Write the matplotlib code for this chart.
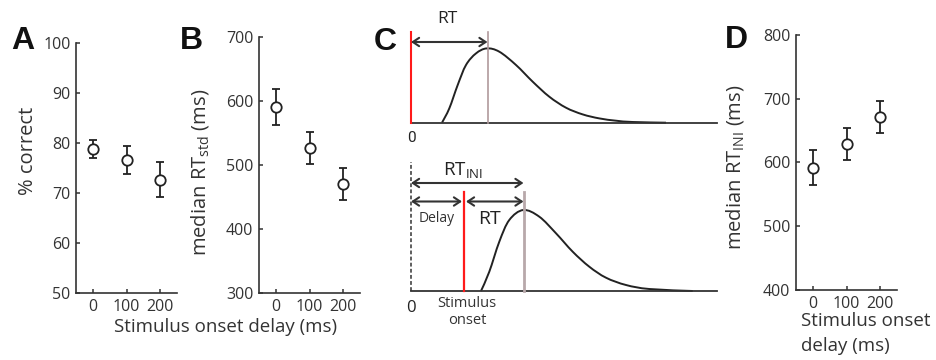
import numpy as np
import matplotlib
matplotlib.use('Agg')
from matplotlib import pyplot as plt
from matplotlib.path import Path
from matplotlib.patches import PathPatch

plt.rcParams['font.family'] = ['Open Sans', 'DejaVu Sans']
plt.rcParams['mathtext.fontset'] = 'custom'
plt.rcParams['mathtext.rm'] = 'Open Sans'
plt.rcParams['mathtext.it'] = 'Open Sans'

# data
delays = [0, 100, 200]
pc_mean = [78.8, 76.6, 72.7]
pc_err = [1.8, 2.8, 3.5]
rt_std_mean = [590, 527, 471]
rt_std_err = [28, 25, 25]
rt_ini_mean = [592, 629, 671]
rt_ini_err = [28, 25, 25]

# schematic RT distributions for panel C (time from 0, density height)
top_t = [31, 38.3, 46.7, 55, 65, 75.7, 88.3, 105, 121.7, 138.3, 155, 171.7, 188.3, 205, 221.7, 255]
top_h = [0, 14.3, 37.7, 57.7, 69.3, 74.3, 71, 57.7, 41, 26, 15, 8.3, 4.3, 2, 0.7, 0]
top_rt = 76.5
bot_t = [70, 78.3, 88.3, 98.3, 112.3, 128.3, 145, 161.7, 178.3, 195, 215, 238.3, 281.7]
bot_h = [0, 19.3, 49.3, 71, 81, 74.3, 57.7, 39.3, 24.3, 13.3, 6, 2, 0]
bot_delay = 53
bot_rt = 112.5

W, H = 936, 360
fig = plt.figure(figsize=(W / 100, H / 100), dpi=100)
txt = '#333333'


def px_axes(left, top, right, bottom):
    return fig.add_axes([left / W, 1 - bottom / H, (right - left) / W, (bottom - top) / H])


def smooth_path(xs, ys):
    # Catmull-Rom through the read points, drawn as cubic Bezier segments
    p = np.column_stack([xs, ys])
    pp = np.vstack([p[0], p, p[-1]])
    verts = [p[0]]
    codes = [Path.MOVETO]
    for i in range(1, len(pp) - 2):
        c1 = pp[i] + (pp[i + 1] - pp[i - 1]) / 6
        c2 = pp[i + 1] - (pp[i + 2] - pp[i]) / 6
        verts += [c1, c2, pp[i + 1]]
        codes += [Path.CURVE4] * 3
    return Path(verts, codes)


def scatter_panel(ax, mean, err, ylim, yticks, ylabel, lab_xy):
    ax.errorbar(delays, mean, yerr=err, fmt='o', color='#222222', mfc='white', mec='#222222',
                ms=7.5, mew=1.3, elinewidth=1.3, capsize=3, capthick=1.3)
    ax.set_xlim(-50, 250)
    ax.set_ylim(*ylim)
    ax.set_xticks(delays)
    ax.set_yticks(yticks)
    for s in ['top', 'right']:
        ax.spines[s].set_visible(False)
    for s in ['left', 'bottom']:
        ax.spines[s].set_color('#333333')
        ax.spines[s].set_linewidth(1.2)
    ax.tick_params(direction='in', length=3, width=1.1, color='#333333', labelsize=11.5,
                   labelcolor=txt, pad=4)
    ax.set_ylabel(ylabel, fontsize=14.5, color=txt)
    ax.yaxis.set_label_coords(*lab_xy)


axA = px_axes(76, 43, 177, 293)
scatter_panel(axA, pc_mean, pc_err, (50, 100), [50, 60, 70, 80, 90, 100], '% correct', (-0.38, 0.57))
axB = px_axes(259, 37, 360, 293)
scatter_panel(axB, rt_std_mean, rt_std_err, (300, 700), [300, 400, 500, 600, 700],
              r'median RT$_{\mathrm{std}}$ (ms)', (-0.48, 0.47))
axD = px_axes(796, 35, 897, 290)
scatter_panel(axD, rt_ini_mean, rt_ini_err, (400, 800), [400, 500, 600, 700, 800],
              r'median RT$_{\mathrm{INI}}$ (ms)', (-0.5, 0.48))

fig.text(226 / W, 1 - 327 / H, 'Stimulus onset delay (ms)', ha='center', va='center', fontsize=13.5, color=txt)
fig.text(801 / W, 1 - 312 / H, 'Stimulus onset\ndelay (ms)', ha='left', va='top', fontsize=13.5,
         color=txt, linespacing=1.5)

# panel C: schematic, axes in pixel units
arrow = dict(arrowstyle='<->,head_length=0.45,head_width=0.3', color='#333333', lw=1.5,
             shrinkA=0, shrinkB=0)

axC1 = px_axes(411, 27.7, 717, 122.7)
axC1.set_xlim(0, 306)
axC1.set_ylim(0, 95)
axC1.axis('off')
axC1.plot([0, 306], [0, 0], color='#333333', lw=1.3, clip_on=False)
axC1.add_patch(PathPatch(smooth_path(top_t, top_h), fill=False, ec='#222222', lw=1.4, clip_on=False))
axC1.plot([0, 0], [0, 90.7], color='#ff1a1a', lw=1.5, clip_on=False)
axC1.plot([top_rt, top_rt], [0, 90.7], color='#b09a9c', lw=1.2, clip_on=False)
axC1.annotate('', xy=(top_rt, 80.7), xytext=(0, 80.7), arrowprops=arrow, annotation_clip=False)
axC1.text(36, 104, 'RT', ha='center', va='center', fontsize=12.5, color='#222222')
axC1.text(0, -15, '0', ha='center', va='center', fontsize=11, color='#222222', family='Roboto')

axC2 = px_axes(411, 156, 717, 291)
axC2.set_xlim(0, 306)
axC2.set_ylim(0, 135)
axC2.axis('off')
axC2.plot([0, 306], [0, 0], color='#333333', lw=1.3, clip_on=False)
axC2.plot([0, 0], [0, 129], color='#333333', lw=1.1, ls=(0, (2.5, 1.5)), clip_on=False)
axC2.add_patch(PathPatch(smooth_path(bot_t, bot_h), fill=False, ec='#222222', lw=1.4, clip_on=False))
axC2.plot([bot_delay, bot_delay], [0, 99], color='#ff1a1a', lw=1.6, clip_on=False)
axC2.plot([bot_rt, bot_rt], [0, 99], color='#b8a8aa', lw=2.0, clip_on=False)
axC2.annotate('', xy=(bot_rt, 108), xytext=(0, 108), arrowprops=arrow, annotation_clip=False)
axC2.annotate('', xy=(bot_delay - 2, 89.5), xytext=(0, 89.5), arrowprops=arrow, annotation_clip=False)
axC2.annotate('', xy=(bot_rt, 89.5), xytext=(bot_delay + 2, 89.5), arrowprops=arrow, annotation_clip=False)
axC2.text(52, 121, r'RT$_{\mathrm{INI}}$', ha='center', va='center', fontsize=13.5, color='#222222')
axC2.text(26, 72, 'Delay', ha='center', va='center', fontsize=10, color=txt)
axC2.text(78, 72, 'RT', ha='center', va='center', fontsize=14, color='#222222')
axC2.text(0, -17, '0', ha='center', va='center', fontsize=12, color='#222222')
axC2.text(56, -21, 'Stimulus\nonset', ha='center', va='center', fontsize=10.5, color=txt, linespacing=1.1)

# panel letters
for lab, x, y in [('A', 23, 41), ('B', 191, 41), ('C', 385, 42), ('D', 736, 40)]:
    fig.text(x / W, 1 - y / H, lab, ha='center', va='center', fontsize=23, fontweight='bold',
             family='Liberation Sans', color='#111111')

fig.savefig('out.png', dpi=100)
